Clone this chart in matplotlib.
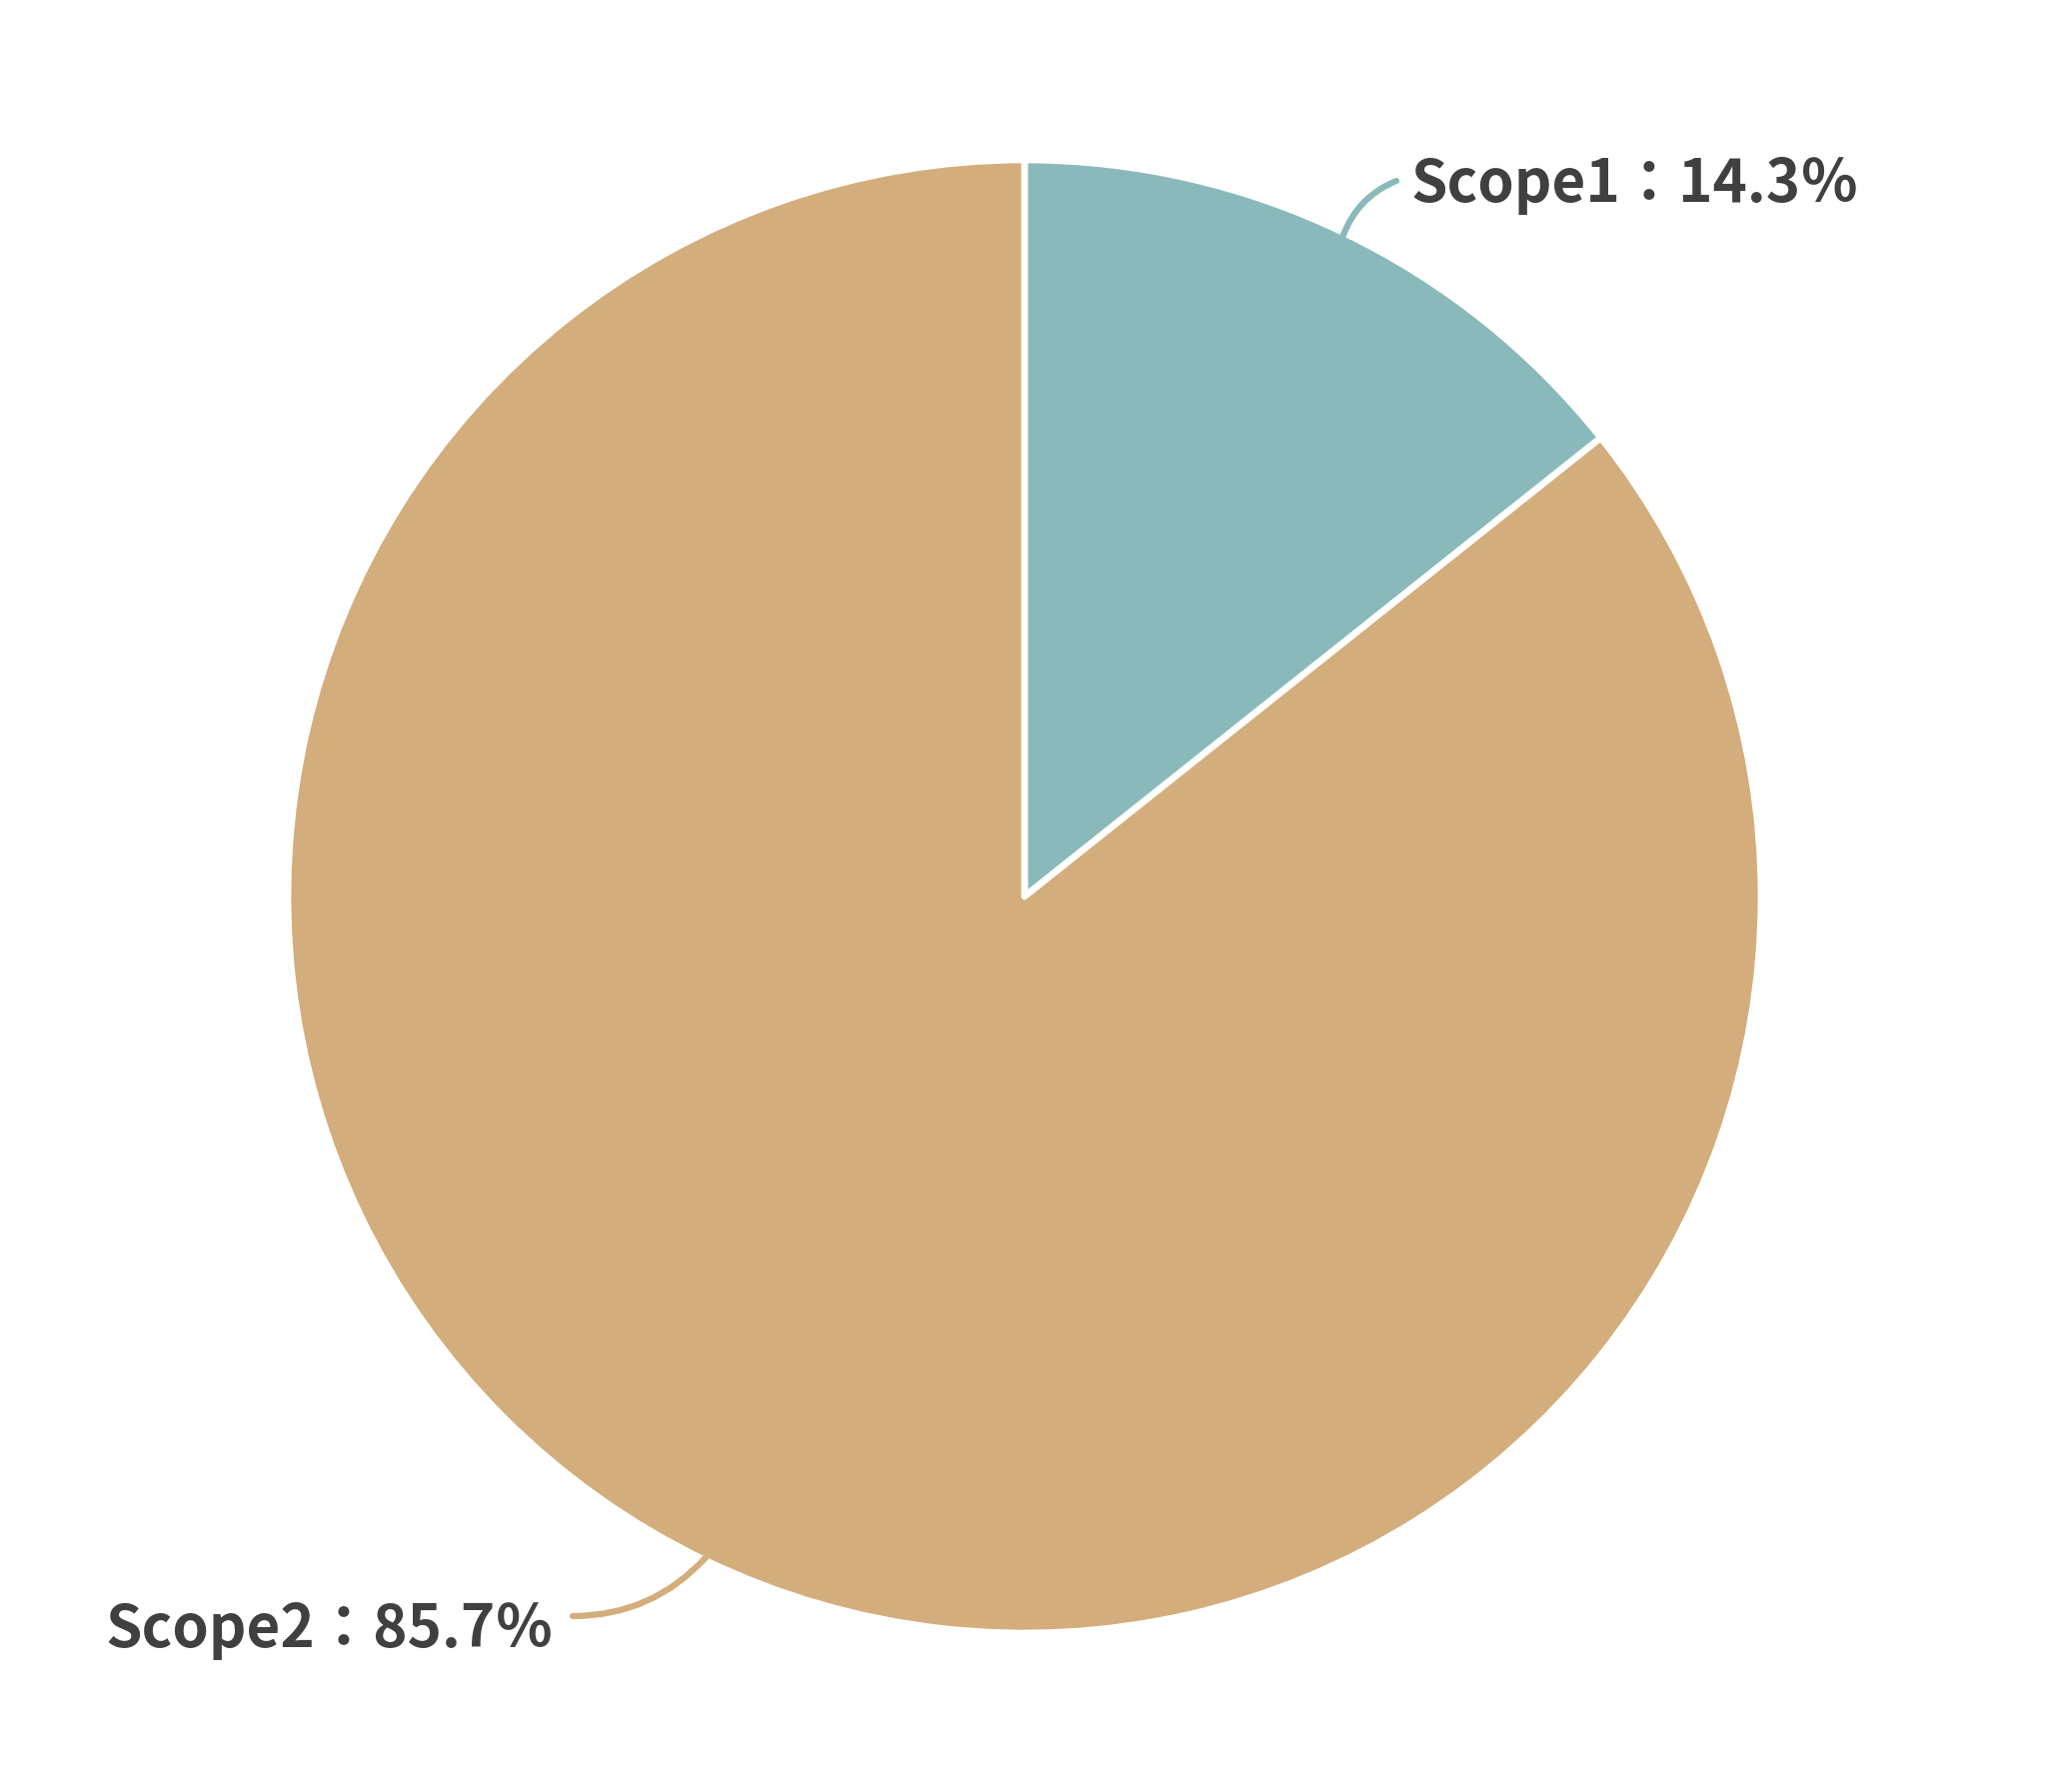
import numpy as np
import matplotlib
matplotlib.use("Agg")
from matplotlib import pyplot as plt

plt.rcParams['font.family'] = ['Noto Sans CJK JP', 'DejaVu Sans']

# data
labels = ['Scope1', 'Scope2']
shares = [14.3, 85.7]
colors = ['#8AB9BB', '#D3AE7C']

W, H = 2048, 1793
fig = plt.figure(figsize=(W / 100, H / 100), dpi=100)
ax = fig.add_axes([0, 0, 1, 1])

cx, cy = 1025, H - 897
r = 737
wedges, _ = ax.pie(shares, colors=colors, startangle=90, counterclock=False,
                   radius=r, center=(cx, cy),
                   wedgeprops=dict(edgecolor='white', linewidth=4.8, joinstyle='round'))
ax.set_xlim(0, W)
ax.set_ylim(0, H)
ax.set_aspect('equal')
ax.axis('off')

# label anchors (pixel coords from top-left)
line_ends = [(1397, 181), (573, 1617)]
text_pos = [(1412, 202), (106, 1648)]

total = sum(shares)
cum = np.cumsum(shares)
for i, (lab, v) in enumerate(zip(labels, shares)):
    mid = 90 - 360 * (cum[i] - v / 2) / total
    ex = cx + 734 * np.cos(np.radians(mid))
    ey = cy + 734 * np.sin(np.radians(mid))
    lx, ly = line_ends[i]
    ax.annotate('', xy=(ex, ey), xytext=(lx, H - ly),
                arrowprops=dict(arrowstyle='-', color=colors[i], lw=4.5,
                                shrinkA=0, shrinkB=0,
                                connectionstyle='arc3,rad=0.22'))
    tx, ty = text_pos[i]
    pct = v / total * 100
    ax.text(tx, H - ty, f'{lab}：{pct:.1f}％', ha='left', va='baseline',
            fontsize=42, fontweight='bold', color='#404040')

fig.savefig('out.png', dpi=100, facecolor='white')
